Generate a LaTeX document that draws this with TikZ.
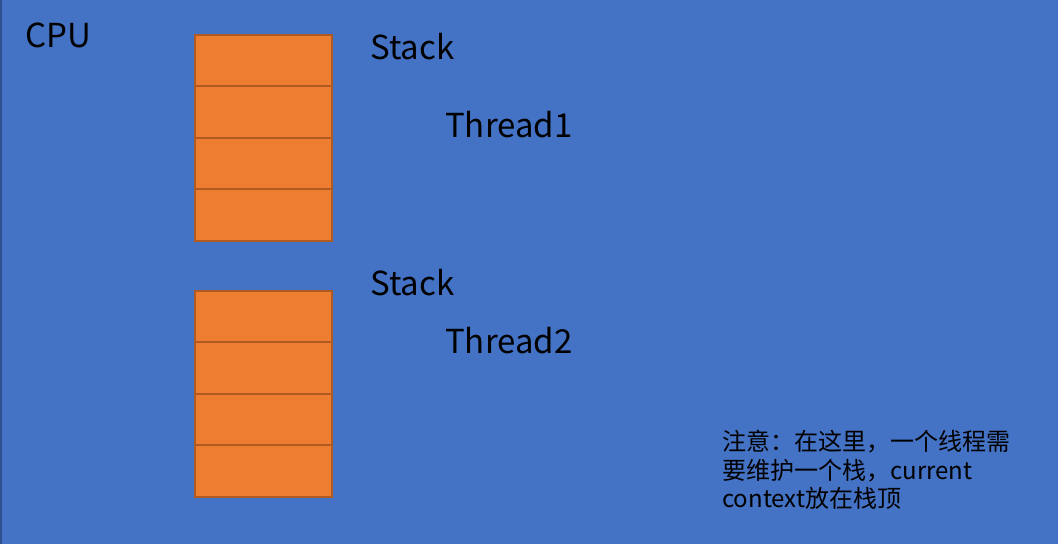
\documentclass[tikz,border=0pt]{standalone}
\usepackage{fontspec}
\setmainfont{Noto Sans CJK SC}
\definecolor{cpublue}{HTML}{4472C4}
\definecolor{cpuedge}{HTML}{2F528F}
\definecolor{cellfill}{HTML}{ED7D31}
\definecolor{celledge}{HTML}{AE5A21}
\begin{document}
\begin{tikzpicture}[x=1pt,y=-1pt,
  cell/.style={draw=celledge,fill=cellfill,line width=2pt,minimum width=137pt,minimum height=51.5pt,inner sep=0pt,outer sep=0pt},
  big/.style={font=\fontsize{33}{38}\selectfont,inner sep=0pt,anchor=base west,text=black},
  small/.style={font=\fontsize{24}{28}\selectfont,inner sep=0pt,anchor=base west,text=black}]
\fill[cpublue] (0,0) rectangle (1058,544);
\useasboundingbox (0,0) rectangle (1058,544);
\draw[cpuedge,line width=2pt] (1,0) -- (1,544);
% stack 1
\node[cell,anchor=north west] (a1) at (194.5,34.5) {};
\node[cell,anchor=north] (a2) at (a1.south) {};
\node[cell,anchor=north] (a3) at (a2.south) {};
\node[cell,anchor=north] (a4) at (a3.south) {};
% stack 2
\node[cell,anchor=north west] (b1) at (194.5,290.5) {};
\node[cell,anchor=north] (b2) at (b1.south) {};
\node[cell,anchor=north] (b3) at (b2.south) {};
\node[cell,anchor=north] (b4) at (b3.south) {};
% labels
\node[big] (cpu) at (25,47) {CPU};
\node[big] (s1) at (370,59) {Stack};
\node[big] (t1) at (445,137) {Thread1};
\node[big] (s2) at (370,295) {Stack};
\node[big] (t2) at (445,353) {Thread2};
\node[small] (n1) at (722,450) {注意：在这里，一个线程需};
\node[small] (n2) at (722,479) {要维护一个栈，current};
\node[small] (n3) at (722,507) {context放在栈顶};
\end{tikzpicture}
\end{document}
